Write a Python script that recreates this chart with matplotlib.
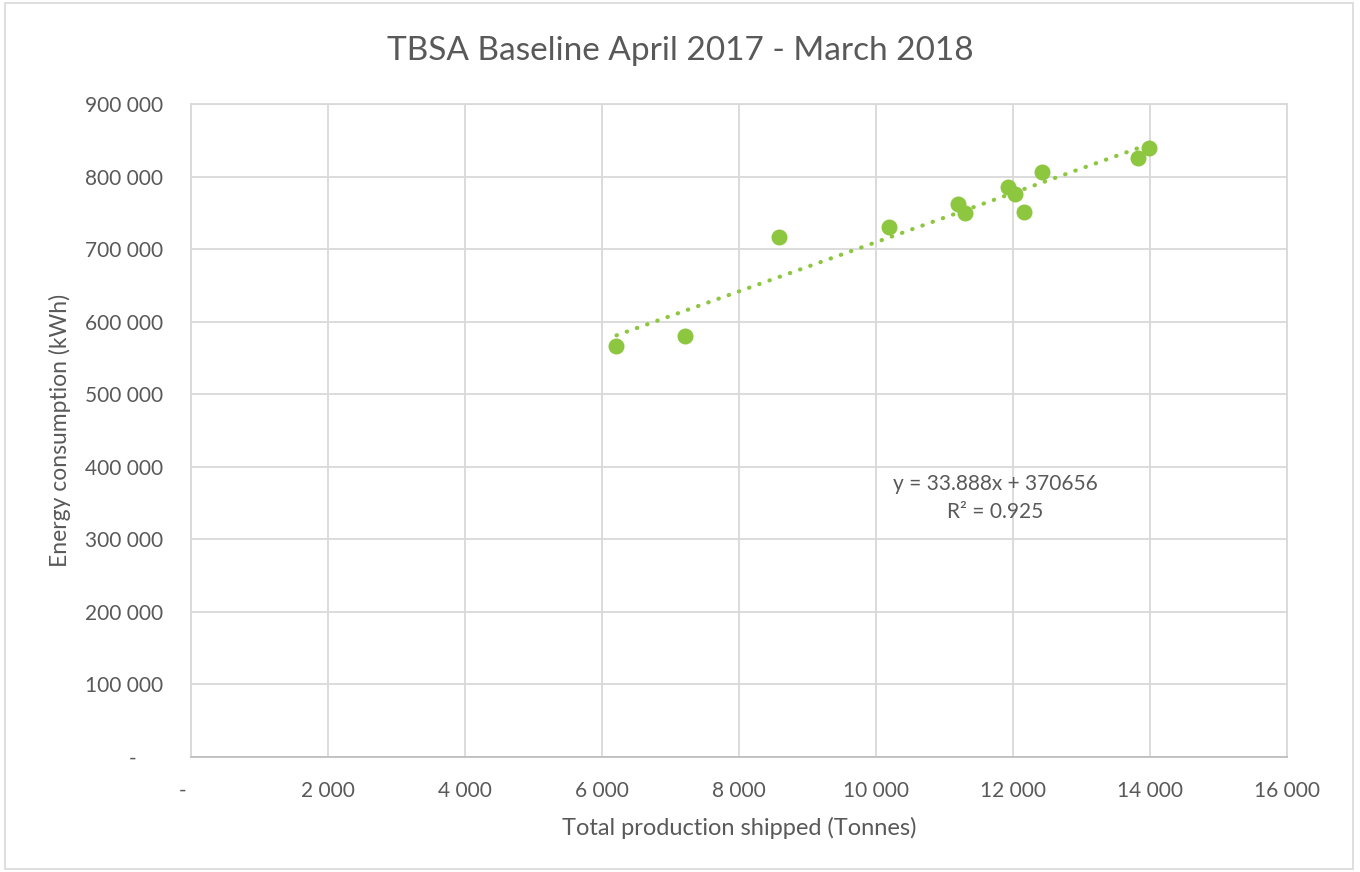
import numpy as np
import matplotlib.pyplot as plt
from matplotlib.patches import Rectangle
from matplotlib.ticker import FuncFormatter

plt.rcParams['font.family'] = ['Lato', 'DejaVu Sans']

# monthly production shipped (tonnes) vs energy use (kWh), Apr 2017 - Mar 2018
tonnes = [6212, 7212, 8587, 10184, 11196, 11307, 11927, 12028, 12162, 12430, 13827, 13983]
kwh = [567000, 580000, 716500, 730300, 761900, 749500, 785300, 775700, 751800, 806900, 826100, 839000]

# linear trend as reported
slope = 33.888
intercept = 370656
r2 = 0.925

grey = '#595959'
green = '#8DC63F'

fig = plt.figure(figsize=(13.6, 8.72), dpi=100)
fig.patches.append(Rectangle((0.004, 0.004), 0.991, 0.993, transform=fig.transFigure,
                             fill=False, edgecolor='#D9D9D9', linewidth=1.2))
ax = fig.add_axes([0.1404, 0.1319, 0.8059, 0.7488])

ax.plot(tonnes, kwh, 'o', color=green, markersize=10.5, zorder=3)

xt = np.array([min(tonnes), max(tonnes)])
ax.plot(xt, slope * xt + intercept, color=green, linewidth=3,
        linestyle=(0, (0.1, 2.5)), dash_capstyle='round', zorder=2)

ax.text(11737, 357000, 'y = %.3fx + %d\nR² = %.3f' % (slope, intercept, r2),
        ha='center', va='center', fontsize=15, color=grey, linespacing=1.45)

ax.set_xlim(0, 16000)
ax.set_ylim(0, 900000)
ax.set_xticks(np.arange(0, 16001, 2000))
ax.set_yticks(np.arange(0, 900001, 100000))


def thousands(v, pos):
    if v == 0:
        return '-'
    return '{:,.0f}'.format(v).replace(',', ' ')


ax.xaxis.set_major_formatter(FuncFormatter(lambda v, p: thousands(v, p) + ('   ' if v == 0 else '')))
ax.yaxis.set_major_formatter(FuncFormatter(lambda v, p: thousands(v, p) + ('     ' if v == 0 else '')))
ax.tick_params(length=0, labelsize=15, labelcolor=grey)
ax.tick_params(axis='y', pad=20)
ax.tick_params(axis='x', pad=17)

ax.grid(True, color='#D9D9D9', linewidth=1.3)
ax.set_axisbelow(True)
for side in ['top', 'right', 'left']:
    ax.spines[side].set_color('#D9D9D9')
    ax.spines[side].set_linewidth(1.3)
ax.spines['bottom'].set_color('#BFBFBF')
ax.spines['bottom'].set_linewidth(1.3)

ax.set_xlabel('Total production shipped (Tonnes)', fontsize=17, color=grey, labelpad=12)
ax.set_ylabel('Energy consumption (kWh)', fontsize=16.5, color=grey, labelpad=10)
fig.text(0.5, 0.942, 'TBSA Baseline April 2017 - March 2018', ha='center', va='center',
         fontsize=24, color=grey)

fig.savefig('out.png', dpi=100)
